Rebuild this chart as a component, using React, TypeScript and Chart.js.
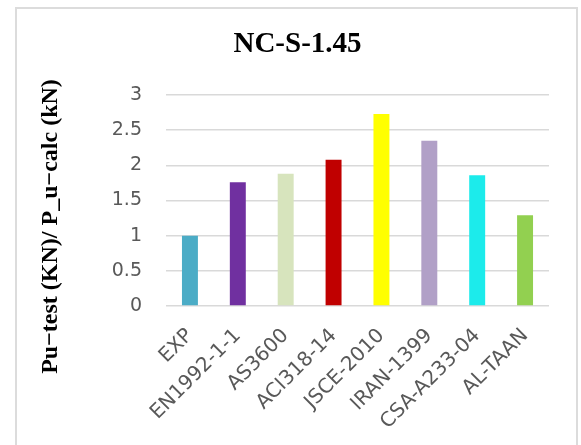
import React, { useEffect, useRef } from "react";
import { Chart, registerables } from "chart.js";

Chart.register(...registerables);

// Ratio of tested to calculated ultimate load for each design code
const categories = [
  "EXP",
  "EN1992-1-1",
  "AS3600",
  "ACI318-14",
  "JSCE-2010",
  "IRAN-1399",
  "CSA-A233-04",
  "AL-TAAN",
];
const ratios = [1.0, 1.76, 1.88, 2.08, 2.73, 2.35, 1.86, 1.29];
const barColors = [
  "#4BACC6",
  "#7030A0",
  "#D7E4BD",
  "#C00000",
  "#FFFF00",
  "#B1A0C7",
  "#1CEBEB",
  "#92D050",
];
const yTickLabels = ["0", "0.5", "1", "1.5", "2", "2.5", "3"];
const yMax = 3;
const yStep = 0.5;

const chartTitle = "NC-S-1.45";
const yAxisTitle = "Pu\u2212test (KN)/ P_u\u2212calc (kN)";

const serif = "'Liberation Serif', 'Times New Roman', serif";
const sans = "'DejaVu Sans', sans-serif";

// Draws the rotated y-axis caption, centred a little below the plot's middle
const yCaptionPlugin = {
  id: "yCaption",
  afterDraw(chart: Chart) {
    const ctx = chart.ctx;
    ctx.save();
    ctx.translate(51, 226.5);
    ctx.rotate(-Math.PI / 2);
    ctx.font = `bold 24px ${serif}`;
    ctx.fillStyle = "#000000";
    ctx.textAlign = "center";
    ctx.textBaseline = "middle";
    ctx.fillText(yAxisTitle, 0, 0);
    ctx.restore();
  },
};

export default function App() {
  const canvasRef = useRef<HTMLCanvasElement | null>(null);

  useEffect(() => {
    if (!canvasRef.current) return;
    const chart = new Chart(canvasRef.current, {
      type: "bar",
      data: {
        labels: categories,
        datasets: [
          {
            data: ratios,
            backgroundColor: barColors,
            borderWidth: 0,
            categoryPercentage: 1,
            barPercentage: 1 / 3,
          },
        ],
      },
      options: {
        animation: false,
        responsive: true,
        maintainAspectRatio: false,
        layout: { padding: { top: 10, left: 46, right: 32, bottom: 0 } },
        plugins: {
          legend: { display: false },
          tooltip: { enabled: false },
          title: {
            display: true,
            text: chartTitle,
            color: "#000000",
            font: { family: serif, size: 29, weight: "bold", lineHeight: 1.2 },
            padding: { top: 17.6, bottom: 32.6 },
          },
        },
        scales: {
          x: {
            grid: { display: false },
            border: { display: false },
            ticks: {
              color: "#595959",
              font: { family: sans, size: 20 },
              maxRotation: 45,
              minRotation: 45,
              padding: 10,
              autoSkip: false,
            },
            afterFit(scale: any) {
              scale.height = 139;
            },
          },
          y: {
            min: 0,
            max: yMax,
            grid: {
              color: "#D9D9D9",
              lineWidth: 1.5,
              drawTicks: false,
            },
            border: { display: false },
            ticks: {
              stepSize: yStep,
              color: "#595959",
              font: { family: sans, size: 19 },
              padding: 24,
              callback: (_v: any, i: number) => yTickLabels[i],
            },
            afterFit(scale: any) {
              scale.width = 120;
            },
          },
        },
      },
      plugins: [yCaptionPlugin],
    });
    return () => chart.destroy();
  }, []);

  return (
    <div
      style={{
        position: "absolute",
        left: 0,
        top: 0,
        width: 581,
        height: 445,
        overflow: "hidden",
        background: "#ffffff",
      }}
    >
      <div
        style={{
          position: "absolute",
          left: 15,
          top: 7,
          width: 563,
          height: 500,
          border: "2px solid #DCDCDC",
          boxSizing: "border-box",
        }}
      />
      <div style={{ position: "absolute", left: 0, top: 0, width: 581, height: 445 }}>
        <canvas ref={canvasRef} />
      </div>
    </div>
  );
}
